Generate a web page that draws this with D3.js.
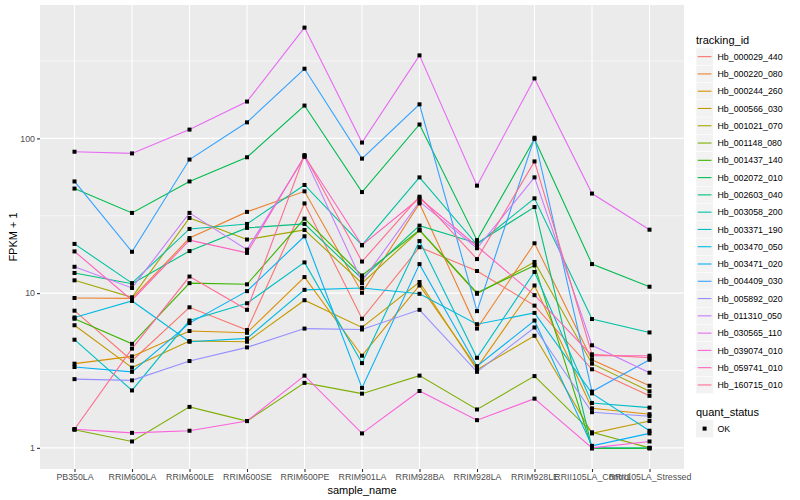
<!DOCTYPE html>
<html>
<head>
<meta charset="utf-8">
<script src="https://cdn.jsdelivr.net/npm/d3@7"></script>
<style>
  body { margin: 0; background: #fff; }
  text { font-family: "Liberation Sans", Arial, sans-serif; }
</style>
</head>
<body>
<div id="chart"></div>
<script>
// samples on the x axis
var samples = ["PB350LA", "RRIM600LA", "RRIM600LE", "RRIM600SE", "RRIM600PE", "RRIM901LA",
               "RRIM928BA", "RRIM928LA", "RRIM928LE", "RRII105LA_Control", "RRII105LA_Stressed"];

var trackingIds = ["Hb_000029_440", "Hb_000220_080", "Hb_000244_260", "Hb_000566_030", "Hb_001021_070",
                   "Hb_001148_080", "Hb_001437_140", "Hb_002072_010", "Hb_002603_040", "Hb_003058_200",
                   "Hb_003371_190", "Hb_003470_050", "Hb_003471_020", "Hb_004409_030", "Hb_005892_020",
                   "Hb_011310_050", "Hb_030565_110", "Hb_039074_010", "Hb_059741_010", "Hb_160715_010"];

// FPKM + 1, one array per tracking id
var hb000029_440 = [7.7, 3.66, 8.1, 5.77, 38, 6.83, 19.8, 13.9, 8.3, 3.22, 2.17];
var hb000220_080 = [9.3, 9.25, 22.7, 33.5, 45.5, 10.05, 38, 5.9, 21, 3.71, 2.52];
var hb000244_260 = [3.5, 3.9, 5.69, 5.54, 12.7, 3.94, 11.2, 3.3, 11.2, 1.8, 1.65];
var hb000566_030 = [6.2, 3.3, 4.9, 4.85, 9.0, 6.0, 11.8, 3.2, 5.3, 1.24, 1.49];
var hb001021_070 = [12.1, 9.4, 30.6, 22.2, 25.6, 11.6, 25.4, 9.9, 15.9, 3.5, 2.32];
var hb001148_080 = [1.31, 1.1, 1.84, 1.49, 2.63, 2.24, 2.93, 1.77, 2.91, 1.26, 1.0];
var hb001437_140 = [6.83, 4.7, 11.6, 11.4, 30.3, 13, 25.6, 10.05, 15.1, 0.99, 0.99];
var hb002072_010 = [47.4, 33, 52.7, 75.5, 163, 45, 123, 22, 99, 15.4, 11.0];
var hb002603_040 = [13.5, 11.5, 18.7, 26.4, 28, 12.4, 27.3, 21, 36, 1.0, 1.0];
var hb003058_200 = [20.8, 11.6, 26, 28, 50, 20.4, 56, 20.6, 41, 6.8, 5.57];
var hb003371_190 = [5.0, 2.35, 6.65, 8.6, 15.8, 3.53, 21.7, 3.82, 13.7, 1.95, 1.82];
var hb003470_050 = [6.96, 8.9, 4.85, 5.1, 10.5, 10.8, 9.9, 6.3, 7.45, 2.25, 1.29];
var hb003471_020 = [3.33, 3.1, 6.4, 10.3, 23.3, 2.44, 15.4, 3.37, 6.65, 1.03, 1.24];
var hb004409_030 = [52.7, 18.5, 73, 127, 282, 74, 166, 7.65, 101, 2.31, 3.71];
var hb005892_020 = [2.78, 2.73, 3.64, 4.46, 5.9, 5.82, 7.8, 3.1, 6.0, 1.7, 1.6];
var hb011310_050 = [14.8, 10.8, 33, 19.1, 76, 11.9, 39, 19.5, 56, 4.6, 3.06];
var hb030565_110 = [82, 80, 114, 173, 520, 94, 344, 49.5, 244, 44, 25.7];
var hb039074_010 = [1.32, 1.25, 1.29, 1.49, 2.93, 1.24, 2.33, 1.51, 2.08, 1.0, 1.1];
var hb059741_010 = [18.6, 9.0, 22, 18.2, 77, 20.4, 41, 20.1, 9.7, 3.94, 3.94];
var hb160715_010 = [1.32, 4.38, 12.8, 7.8, 78, 16, 42, 16.6, 71, 4.02, 3.82];

var allValues = [hb000029_440, hb000220_080, hb000244_260, hb000566_030, hb001021_070,
                 hb001148_080, hb001437_140, hb002072_010, hb002603_040, hb003058_200,
                 hb003371_190, hb003470_050, hb003471_020, hb004409_030, hb005892_020,
                 hb011310_050, hb030565_110, hb039074_010, hb059741_010, hb160715_010];

var yTicks = [1, 10, 100];
var yMinor = [Math.sqrt(10), Math.sqrt(1000), Math.sqrt(100000)];

// ggplot hue palette for 20 groups
var colors = ["#F8766D", "#EA8331", "#D89000", "#C09B00", "#A3A500", "#7CAE00", "#39B600",
              "#00BB4E", "#00BF7D", "#00C1A3", "#00BFC4", "#00BAE0", "#00B0F6", "#35A2FF",
              "#9590FF", "#C77CFF", "#E76BF3", "#FA62DB", "#FF62BC", "#FF6C91"];

var series = trackingIds.map(function(id, i) {
  return { id: id, color: colors[i],
           values: samples.map(function(s, j) { return { sample: s, value: allValues[i][j] }; }) };
});

var totalWidth = 800, totalHeight = 500;
var panel = { left: 40, top: 5, right: 684, bottom: 469 };

var svg = d3.select("#chart").append("svg")
    .attr("width", totalWidth)
    .attr("height", totalHeight);

svg.append("rect").attr("width", totalWidth).attr("height", totalHeight).attr("fill", "#fff");

var x = d3.scalePoint()
    .domain(samples)
    .range([panel.left, panel.right])
    .padding(0.6);

var y = d3.scaleLog()
    .domain([0.73, 728])
    .range([panel.bottom, panel.top]);

// panel background
svg.append("rect")
    .attr("x", panel.left).attr("y", panel.top)
    .attr("width", panel.right - panel.left)
    .attr("height", panel.bottom - panel.top)
    .attr("fill", "#EBEBEB");

// grid lines
svg.append("g").selectAll("line").data(yMinor).enter().append("line")
    .attr("x1", panel.left).attr("x2", panel.right)
    .attr("y1", function(d) { return y(d); }).attr("y2", function(d) { return y(d); })
    .attr("stroke", "#fff").attr("stroke-width", 0.55);
svg.append("g").selectAll("line").data(yTicks).enter().append("line")
    .attr("x1", panel.left).attr("x2", panel.right)
    .attr("y1", function(d) { return y(d); }).attr("y2", function(d) { return y(d); })
    .attr("stroke", "#fff").attr("stroke-width", 1.1);
svg.append("g").selectAll("line").data(samples).enter().append("line")
    .attr("x1", function(d) { return x(d); }).attr("x2", function(d) { return x(d); })
    .attr("y1", panel.top).attr("y2", panel.bottom)
    .attr("stroke", "#fff").attr("stroke-width", 1.1);

// lines
var line = d3.line()
    .x(function(d) { return x(d.sample); })
    .y(function(d) { return y(d.value); });

svg.append("g").selectAll("path").data(series).enter().append("path")
    .attr("d", function(d) { return line(d.values); })
    .attr("fill", "none")
    .attr("stroke", function(d) { return d.color; })
    .attr("stroke-width", 1.1);

// points
var allPoints = [];
series.forEach(function(s) { s.values.forEach(function(v) { allPoints.push(v); }); });
svg.append("g").selectAll("rect").data(allPoints).enter().append("rect")
    .attr("x", function(d) { return x(d.sample) - 2; })
    .attr("y", function(d) { return y(d.value) - 2; })
    .attr("width", 4).attr("height", 4)
    .attr("fill", "#000");

// axes
var xAxis = svg.append("g")
    .attr("transform", "translate(0," + panel.bottom + ")")
    .call(d3.axisBottom(x).tickSize(3).tickPadding(2));
var yAxis = svg.append("g")
    .attr("transform", "translate(" + panel.left + ",0)")
    .call(d3.axisLeft(y).tickValues(yTicks).tickFormat(d3.format("d")).tickSize(3).tickPadding(2));
[xAxis, yAxis].forEach(function(a) {
  a.select(".domain").remove();
  a.selectAll(".tick line").attr("stroke", "#333333").attr("stroke-width", 1.1);
  a.selectAll(".tick text").attr("fill", "#4D4D4D")
    .style("font-size", "8.8px")
    .style("font-family", "'Liberation Sans', Arial, sans-serif");
});

// axis titles
svg.append("text")
    .attr("x", (panel.left + panel.right) / 2).attr("y", 494)
    .style("text-anchor", "middle").style("font-size", "11px")
    .text("sample_name");
svg.append("text")
    .attr("transform", "translate(17," + ((panel.top + panel.bottom) / 2) + ") rotate(-90)")
    .style("text-anchor", "middle").style("font-size", "11px")
    .text("FPKM + 1");

// legend: tracking_id
var legX = 696, legTop = 48, rowH = 17.28;
svg.append("text").attr("x", legX).attr("y", 44).style("font-size", "11px").text("tracking_id");
var rows = svg.append("g").selectAll("g").data(series).enter().append("g")
    .attr("transform", function(d, i) { return "translate(" + legX + "," + (legTop + i * rowH) + ")"; });
rows.append("rect").attr("width", 17.28).attr("height", 17.28)
    .attr("fill", "#F2F2F2").attr("stroke", "#fff").attr("stroke-width", 0.5);
rows.append("line").attr("x1", 1.7).attr("x2", 15.5).attr("y1", 8.64).attr("y2", 8.64)
    .attr("stroke", function(d) { return d.color; }).attr("stroke-width", 1.1);
rows.append("text").attr("x", 21.5).attr("y", 11.8)
    .style("font-size", "8.8px").text(function(d) { return d.id; });

// legend: quant_status
svg.append("text").attr("x", legX).attr("y", 416).style("font-size", "11px").text("quant_status");
svg.append("rect").attr("x", legX).attr("y", 420).attr("width", 17.28).attr("height", 17.28)
    .attr("fill", "#F2F2F2");
svg.append("rect").attr("x", legX + 6.6).attr("y", 426.6).attr("width", 4).attr("height", 4).attr("fill", "#000");
svg.append("text").attr("x", legX + 21.5).attr("y", 432).style("font-size", "8.8px").text("OK");
</script>
</body>
</html>
